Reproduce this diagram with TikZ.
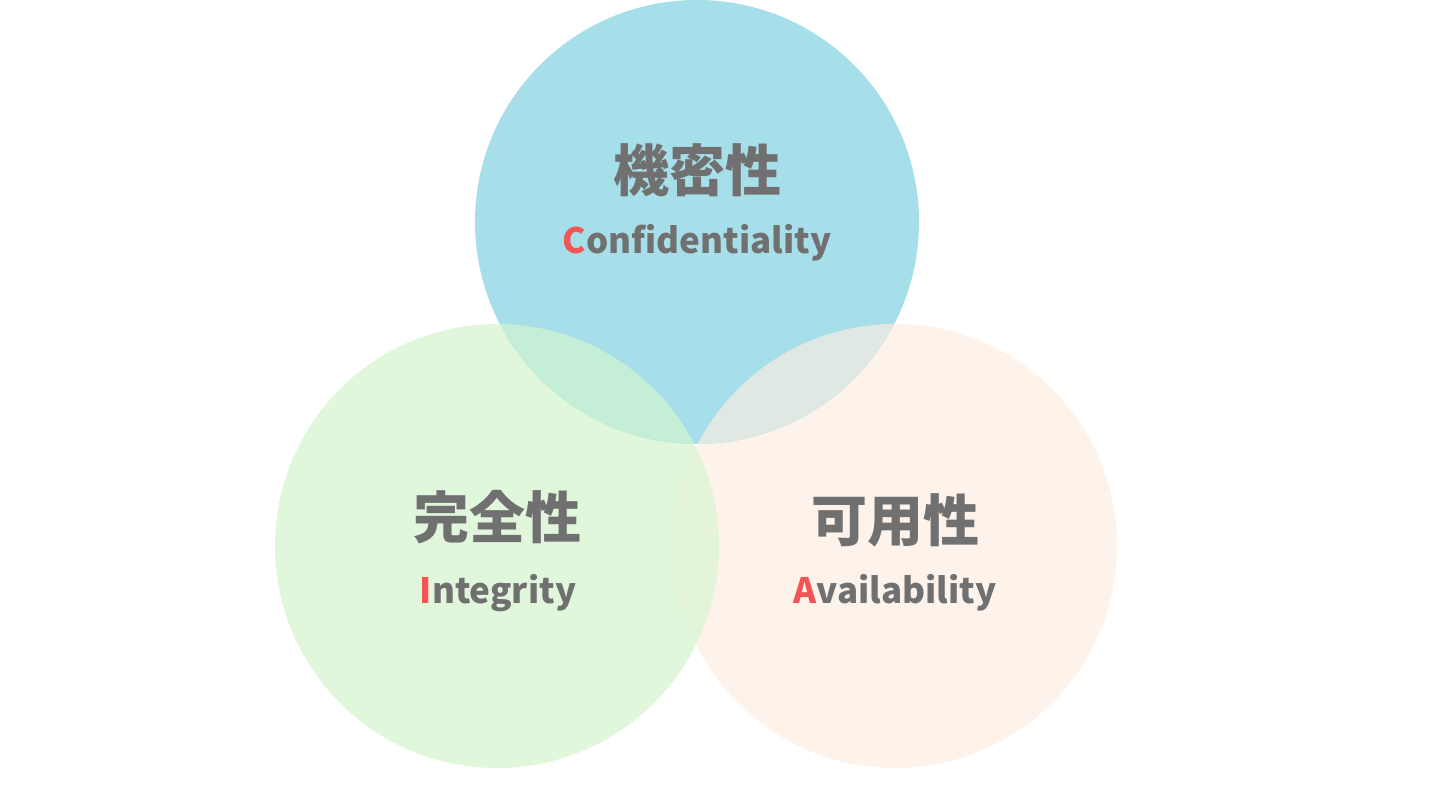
\documentclass[tikz,border=0pt]{standalone}
\usepackage{fontspec}
\newfontfamily\cjk{Noto Sans CJK JP}
\definecolor{cTop}{HTML}{A6DFE9}
\definecolor{cLeft}{HTML}{E1F7DC}
\definecolor{cRight}{HTML}{FDF3EA}
\definecolor{cLR}{HTML}{E3F4D8}
\definecolor{cTL}{HTML}{C4EED5}
\definecolor{cTR}{HTML}{E0E8E3}
\definecolor{txt}{HTML}{707070}
\definecolor{accent}{HTML}{F25555}
\tikzset{
  title/.style={text=txt, font=\cjk\bfseries\fontsize{56}{60}\selectfont, inner sep=0pt},
  sub/.style={text=txt, font=\cjk\bfseries\fontsize{35}{40}\selectfont, inner sep=0pt, anchor=base},
}
\begin{document}
\begin{tikzpicture}[x=1pt,y=-1pt]
\useasboundingbox (0,0) rectangle (1440,810);
\fill[white] (0,0) rectangle (1440,810);
\def\R{222}
\coordinate (T) at (697,222);
\coordinate (L) at (497,546);
\coordinate (Rt) at (895,546);
\fill[cLeft] (L) circle (\R);
\fill[cRight] (Rt) circle (\R);
\begin{scope}
  \clip (L) circle (\R);
  \fill[cLR] (Rt) circle (\R);
\end{scope}
\fill[cTop] (T) circle (\R);
\begin{scope}
  \clip (T) circle (\R);
  \fill[cTL] (L) circle (\R);
  \fill[cTR] (Rt) circle (\R);
\end{scope}
\node[title] (tC) at (697,170) {機密性};
\node[sub] (sC) at (697,254) {\textcolor{accent}{C}onfidentiality};
\node[title] (tI) at (497,517) {完全性};
\node[sub] (sI) at (498,603) {\textcolor{accent}{I}ntegrity};
\node[title] (tA) at (895,520) {可用性};
\node[sub] (sA) at (895,603) {\textcolor{accent}{A}vailability};
\end{tikzpicture}
\end{document}
